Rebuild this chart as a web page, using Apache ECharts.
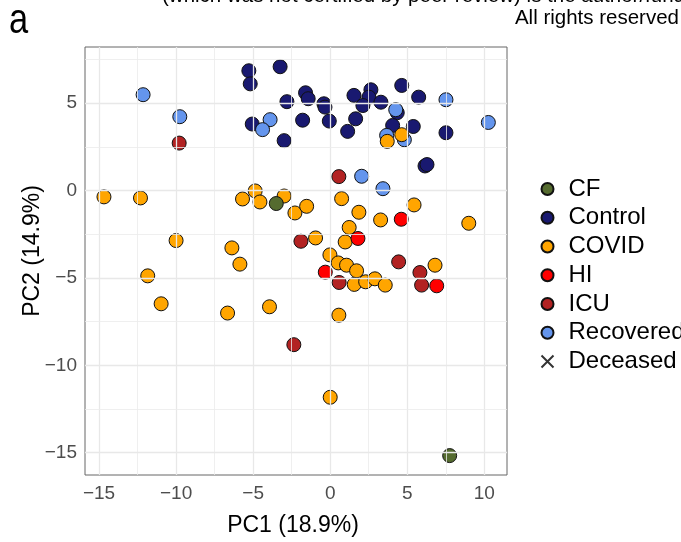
<!DOCTYPE html>
<html><head><meta charset="utf-8">
<script src="https://cdn.jsdelivr.net/npm/echarts@6/dist/echarts.min.js"></script>
<style>html,body{margin:0;padding:0;background:#fff}#c{width:681px;height:542px}</style>
</head><body><div id="c"></div>
<script>
const groups = ['CF', 'Control', 'COVID', 'HI', 'ICU', 'Recovered', 'Deceased'];
const cfPoints = [[-3.5, -0.74], [7.75, -15.17]];
const controlPoints = [
  [-5.28, 6.86], [-5.19, 6.11], [-3.25, 7.09], [-2.81, 5.09], [-5.06, 3.81], [-2.99, 2.86],
  [-1.6, 5.6], [-1.43, 5.26], [-1.79, 4.03], [-0.41, 4.97], [-0.34, 4.78], [-0.06, 3.98],
  [1.54, 5.45], [2.64, 5.77], [2.51, 5.35], [2.12, 4.87], [3.29, 5.06], [1.65, 4.11],
  [1.13, 3.39], [4.64, 6.02], [5.74, 5.35], [4.35, 4.46], [4.05, 3.73], [5.39, 3.67],
  [7.51, 3.31], [6.15, 1.41], [6.28, 1.49]
];
const recoveredPoints = [
  [-12.14, 5.49], [-9.76, 4.23], [-3.9, 4.06], [-4.39, 3.49], [4.25, 4.63], [3.66, 3.16],
  [4.81, 2.91], [7.51, 5.2], [10.26, 3.9], [2.04, 0.82], [3.42, 0.11]
];
const covidPoints = [
  [3.7, 2.82], [4.64, 3.2], [0.74, -0.46], [-14.68, -0.36], [-12.31, -0.42], [-4.87, -0.02],
  [-5.69, -0.48], [-4.56, -0.65], [-2.99, -0.31], [-2.29, -1.28], [-1.53, -0.9], [-10, -2.86],
  [-6.38, -3.28], [-5.86, -4.21], [-11.84, -4.88], [-10.97, -6.48], [-6.66, -7.01], [-3.94, -6.65],
  [1.86, -1.24], [3.27, -1.68], [5.44, -0.82], [8.99, -1.87], [1.23, -2.11], [0.97, -2.94],
  [-0.95, -2.71], [-0.02, -3.68], [0.52, -4.14], [1.06, -4.27], [1.71, -4.59], [1.56, -5.37],
  [2.3, -5.22], [2.9, -5.05], [3.57, -5.41], [6.8, -4.27], [0.56, -7.13], [0, -11.83]
];
const hiPoints = [[4.61, -1.64], [1.8, -2.74], [-0.32, -4.67], [6.91, -5.45]];
const icuPoints = [[-9.8, 2.72], [0.56, 0.8], [-1.9, -2.9], [0.58, -5.26], [4.44, -4.08], [5.82, -4.69], [5.93, -5.41], [-2.36, -8.82]];
const deceasedPoints = [];

const xTicks = [-15, -10, -5, 0, 5, 10];
const yTicks = [-15, -10, -5, 0, 5];
const xMinor = [-12.5, -7.5, -2.5, 2.5, 7.5];
const yMinor = [-12.5, -7.5, -2.5, 2.5, 7.5];
const xRange = [-15.91, 11.47];
const yRange = [-16.28, 8.22];
const xTitle = 'PC1 (18.9%)';
const yTitle = 'PC2 (14.9%)';

const colors = {
  CF: '#556B2F', Control: '#191970', COVID: '#FFA500', HI: '#FF0000', ICU: '#B22222', Recovered: '#6495ED'
};
const FONT = '"Liberation Sans", Arial, Helvetica, sans-serif';
const fmt = v => (v < 0 ? '\u2212' + Math.abs(v) : String(v));

function scatter(name, data) {
  return {
    name, type: 'scatter', data, symbol: 'circle', symbolSize: 14,
    itemStyle: { color: colors[name], borderColor: '#111', borderWidth: 1, opacity: 1 },
    emphasis: { disabled: true }, z: 3
  };
}

const gridLines = [];
xTicks.forEach(v => gridLines.push({ xAxis: v, lineStyle: { width: 1.3, color: '#e8e8e8', type: 'solid' } }));
xMinor.forEach(v => gridLines.push({ xAxis: v, lineStyle: { width: 0.8, color: '#ebebeb', type: 'solid' } }));
yTicks.forEach(v => gridLines.push({ yAxis: v, lineStyle: { width: 1.3, color: '#e8e8e8', type: 'solid' } }));
yMinor.forEach(v => gridLines.push({ yAxis: v, lineStyle: { width: 0.8, color: '#ebebeb', type: 'solid' } }));

const chart = echarts.init(document.getElementById('c'), null, { renderer: 'canvas' });
chart.setOption({
  animation: false,
  backgroundColor: '#fff',
  textStyle: { fontFamily: FONT },
  grid: { left: 85, right: 174, top: 47, bottom: 67, show: true, borderColor: '#666', borderWidth: 1, backgroundColor: 'transparent', containLabel: false },
  xAxis: {
    type: 'value', min: xRange[0], max: xRange[1],
    name: xTitle, nameLocation: 'middle', nameGap: 39,
    nameTextStyle: { fontSize: 23, color: '#000', fontFamily: FONT, padding: [0, 6, 0, 0] },
    axisLine: { show: false },
    axisTick: { show: true, customValues: xTicks, length: 4, lineStyle: { color: '#333' } },
    axisLabel: { customValues: xTicks, formatter: fmt, fontSize: 19, color: '#4d4d4d', margin: 9, fontFamily: FONT },
    splitLine: { show: false }
  },
  yAxis: {
    type: 'value', min: yRange[0], max: yRange[1],
    axisLine: { show: false },
    axisTick: { show: true, customValues: yTicks, length: 4, lineStyle: { color: '#333' } },
    axisLabel: { customValues: yTicks, formatter: fmt, fontSize: 19, color: '#4d4d4d', margin: 8, fontFamily: FONT },
    splitLine: { show: false }
  },
  legend: {
    orient: 'vertical', left: 534, top: 172, itemWidth: 32, itemHeight: 12, itemGap: 4.75,
    selectedMode: false, data: groups,
    textStyle: { fontSize: 24, color: '#000', lineHeight: 24, fontFamily: FONT }
  },
  graphic: [
    { type: 'text', x: 9, y: 21, scaleX: 0.82, style: { x: 0, y: 0, text: 'a', font: '42px ' + FONT, fill: '#000', textVerticalAlign: 'middle' } },
    { type: 'text', style: { x: 162, y: -4, text: '(which was not certified by peer review) is the author/funder, who has granted medRxiv a license', font: '20.5px ' + FONT, fill: '#000', textVerticalAlign: 'middle' } },
    { type: 'text', style: { x: 679, y: 18, text: 'All rights reserved', font: '20.5px ' + FONT, fill: '#000', textAlign: 'right', textVerticalAlign: 'middle' } },
    { type: 'text', x: 33, y: 251, rotation: Math.PI / 2, style: { x: 0, y: 0, text: yTitle, font: '23px ' + FONT, fill: '#000', textAlign: 'center', textVerticalAlign: 'middle' } }
  ],
  series: [
    {
      name: '__grid', type: 'line', data: [], silent: true, z: 0,
      markLine: { silent: true, symbol: ['none', 'none'], label: { show: false }, emphasis: { disabled: true }, animation: false, data: gridLines }
    },
    scatter('Control', controlPoints),
    scatter('Recovered', recoveredPoints),
    scatter('COVID', covidPoints),
    scatter('ICU', icuPoints),
    scatter('HI', hiPoints),
    scatter('CF', cfPoints),
    {
      name: 'Deceased', type: 'scatter', data: deceasedPoints,
      symbol: 'path://M0,0L10,10M10,0L0,10', symbolKeepAspect: true, symbolSize: 12,
      itemStyle: { color: 'none', borderColor: '#000', borderWidth: 1.1 }
    }
  ]
});
</script></body></html>
